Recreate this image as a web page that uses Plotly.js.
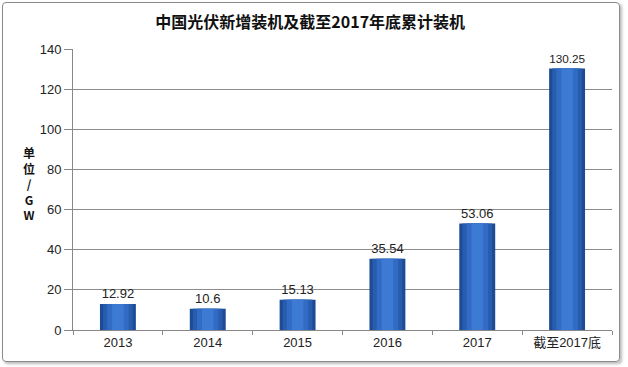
<!DOCTYPE html>
<html><head><meta charset="utf-8">
<script src="https://cdn.plot.ly/plotly-3.0.1.min.js"></script>
<style>
body{margin:0;background:#fff;}
#frame{position:absolute;left:2px;top:2px;width:616px;height:358px;border:1px solid #8a8a8a;border-radius:4px;box-shadow:2px 2px 3px #bbb;}
#chart{position:absolute;left:0;top:0;width:628px;height:367px;}
</style></head><body>
<div id="frame"></div>
<div id="chart"></div>
<script>
var categories = ["2013","2014","2015","2016","2017","截至2017底"];
var values = [12.92, 10.6, 15.13, 35.54, 53.06, 130.25];
var valueLabels = ["12.92","10.6","15.13","35.54","53.06","130.25"];
var yTicks = [0,20,40,60,80,100,120,140];

var font = "Liberation Sans, Arial, 'Noto Sans CJK SC', sans-serif";
var traces = [
  {type:'bar', x:categories, y:values, width:0.4, marker:{color:'#1e4c94', line:{width:0}},
   text:valueLabels, textposition:'outside', cliponaxis:false,
   textfont:{family:font,size:13,color:'#222'}, hoverinfo:'none'},
  {type:'bar', x:categories, y:values, width:0.33, marker:{color:'#285cae', line:{width:0}}, hoverinfo:'none'},
  {type:'bar', x:categories, y:values, width:0.24, marker:{color:'#316bc4', line:{width:0}}, hoverinfo:'none'},
  {type:'bar', x:categories, y:values, width:0.13, marker:{color:'#3c7ad4', line:{width:0}}, hoverinfo:'none'}
];
var layout = {
  width:628, height:367,
  margin:{l:73, r:16, t:49, b:37},
  paper_bgcolor:'rgba(0,0,0,0)', plot_bgcolor:'rgba(0,0,0,0)',
  barmode:'overlay', showlegend:false,
  title:{text:'<b>中国光伏新增装机及截至2017年底累计装机</b>', x:0.494, xanchor:'center', y:0.94, yanchor:'middle',
    font:{family:"'Noto Sans CJK SC', sans-serif", size:16, color:'#111'}},
  xaxis:{type:'category', showgrid:false, showline:true, linecolor:'#888', linewidth:1,
    ticks:'outside', ticklen:4, tickcolor:'#888', tickson:'boundaries',
    tickfont:{family:font, size:13, color:'#222'}},
  yaxis:{range:[0,140], tickvals:yTicks, showgrid:true, gridcolor:'#8c8c8c', gridwidth:1,
    showline:true, linecolor:'#888', ticks:'outside', ticklen:8, tickcolor:'#888', zeroline:false,
    tickfont:{family:font, size:13, color:'#222'}},
  annotations:[{text:'<b>单<br>位<br>/<br>G<br>W</b>', xref:'paper', yref:'paper', x:-0.082, y:0.52,
    xanchor:'center', yanchor:'middle', showarrow:false, align:'center',
    font:{family:"'Noto Sans CJK SC', sans-serif", size:12, color:'#111'}}]
};
Plotly.newPlot('chart', traces, layout, {staticPlot:true, displayModeBar:false});
</script>
</body></html>
